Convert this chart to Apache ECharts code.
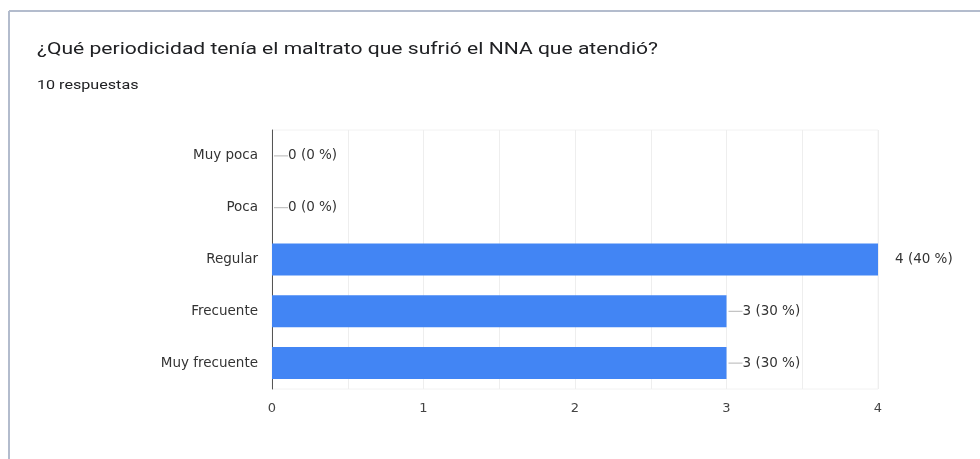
<!DOCTYPE html>
<html>
<head>
<meta charset="utf-8">
<script src="https://cdn.jsdelivr.net/npm/echarts@6/dist/echarts.min.js"></script>
<style>
  html, body { margin: 0; padding: 0; background: #fff; }
  #chart { width: 980px; height: 459px; }
</style>
</head>
<body>
<div id="chart"></div>
<script>
const titleText = "¿Qué periodicidad tenía el maltrato que sufrió el NNA que atendió?";
const subText = "10 respuestas";
const categories = ["Muy poca", "Poca", "Regular", "Frecuente", "Muy frecuente"];
const counts = [0, 0, 4, 3, 3];
const percents = [0, 0, 40, 30, 30];
const axisMax = 4;

const labelFont = "DejaVu Sans, sans-serif";
const chart = echarts.init(document.getElementById("chart"));

chart.setOption({
  animation: false,
  graphic: [
    { type: "line", shape: { x1: 9, y1: 11, x2: 980, y2: 11 }, style: { stroke: "#b3bccd", lineWidth: 2 } },
    { type: "line", shape: { x1: 9, y1: 11, x2: 9, y2: 459 }, style: { stroke: "#b3bccd", lineWidth: 2 } },
    {
      type: "text", x: 37, y: 50, scaleX: 1.24,
      style: { text: titleText, fill: "#202124", font: "17px Roboto, sans-serif", verticalAlign: "middle" },
    },
    {
      type: "text", x: 37, y: 86, scaleX: 1.24,
      style: { text: subText, fill: "#202124", font: "13px Roboto, sans-serif", verticalAlign: "middle" },
    },
  ],
  grid: {
    left: 272,
    right: 102,
    top: 130,
    bottom: 70,
    show: true,
    borderColor: "#f2f2f2",
    borderWidth: 1,
  },
  xAxis: {
    type: "value",
    min: 0,
    max: axisMax,
    interval: 0.5,
    axisLine: { show: false },
    axisTick: { show: false },
    axisLabel: {
      color: "#444",
      fontSize: 13,
      fontFamily: labelFont,
      margin: 13,
      formatter: (v) => (Number.isInteger(v) ? String(v) : ""),
    },
    splitLine: { lineStyle: { color: "#eeeeee", width: 1 } },
  },
  yAxis: {
    type: "category",
    inverse: true,
    data: categories,
    axisLine: { show: true, lineStyle: { color: "#555", width: 1 } },
    axisTick: { show: false },
    axisLabel: {
      color: "#333",
      fontSize: 13.5,
      fontFamily: labelFont,
      margin: 14,
    },
    splitLine: { show: false },
  },
  series: [
    {
      type: "bar",
      data: counts,
      barWidth: 32,
      itemStyle: { color: "#4285f4" },
      label: {
        show: true,
        position: "right",
        distance: 2,
        color: "#333",
        fontSize: 13.5,
        fontFamily: labelFont,
        formatter: (p) => {
          const txt = p.value + " (" + percents[p.dataIndex] + " %)";
          return p.value < axisMax ? "{ln|}" + txt : "{sp|}" + txt;
        },
        rich: {
          ln: { width: 14, height: 1, backgroundColor: "#b5b5b5", verticalAlign: "middle" },
          sp: { width: 15, height: 1 },
        },
      },
    },
  ],
});
</script>
</body>
</html>
